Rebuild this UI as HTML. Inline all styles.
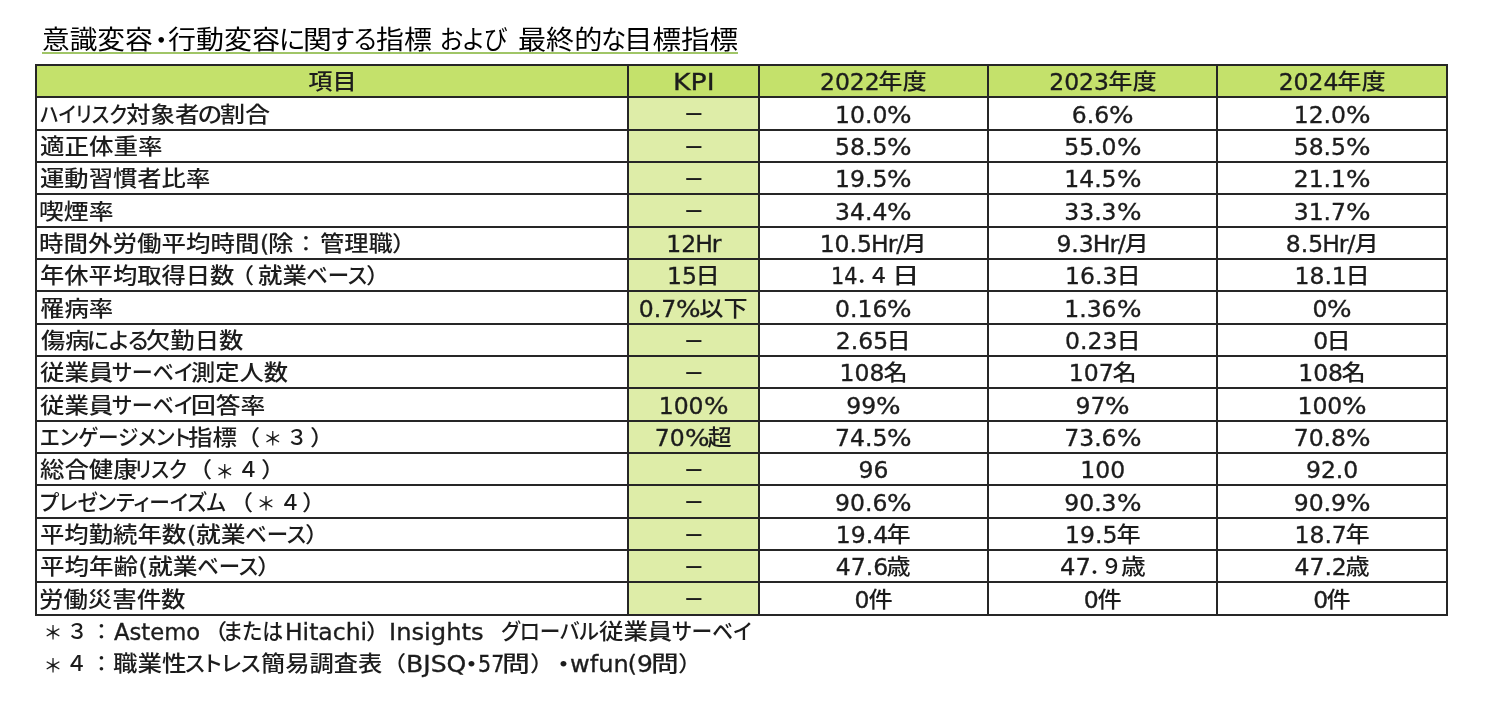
<!DOCTYPE html>
<html lang="ja"><head><meta charset="utf-8"><title>意識変容･行動変容に関する指標 および 最終的な目標指標</title>
<style>
html,body{margin:0;padding:0;background:#fff;}
body{width:1496px;height:703px;position:relative;overflow:hidden;font-family:"DejaVu Sans","Liberation Sans","Noto Sans CJK JP",sans-serif;color:#1c1c1c;}
.a{position:absolute;white-space:nowrap;}
.l{position:absolute;background:#262626;}
.t{position:absolute;white-space:pre;font-size:23.5px;font-weight:500;line-height:32px;height:32px;-webkit-text-stroke:.35px #1c1c1c;}
.tt{color:#000;position:absolute;white-space:pre;font-size:25.6px;font-weight:400;line-height:36px;height:36px;}
.c{text-align:center;}
.r{position:absolute;top:0;left:0;transform-origin:0 50%;white-space:pre;}
.t .j{font-size:21.4px;top:-0.1px;-webkit-text-stroke:0;}
.k{font-feature-settings:"palt";}
.f{font-weight:500;}
.t .g{font-size:19px;top:1.4px;}
.t .m{font-size:30px;top:1px;}
.tt .m{font-size:34px;top:1.5px;}
.cj{-webkit-text-stroke:0;display:inline-block;font-size:21.4px;transform:scaleX(1.1308);position:relative;top:-1.1px;}
.p{display:inline-block;transform:scaleX(1.1);margin:0 1.1px;}
.d{-webkit-text-stroke:0;display:inline-block;transform:scaleX(.9);position:relative;top:.8px;}
.h{letter-spacing:-1px;margin-left:-1px;}
</style></head><body>
<div class="tt" id="title" style="left:0;top:21.60px;width:800px;"><span class="r j" style="left:42.07px;transform:scaleX(1.0815);">意識変容</span><span class="r j m" style="left:152.84px;">･</span><span class="r j" style="left:167.81px;transform:scaleX(1.0940);">行動変容</span><span class="r j k" style="left:278.55px;transform:scaleX(1.0503);">に</span><span class="r j" style="left:302.75px;transform:scaleX(1.1274);">関</span><span class="r j k" style="left:330.81px;transform:scaleX(0.9907);">する</span><span class="r j" style="left:375.91px;transform:scaleX(1.0898);">指標</span><span class="r" style="left:431.7px"> </span><span class="r j k" style="left:440.21px;transform:scaleX(0.9346);">および</span><span class="r" style="left:507.1px"> </span><span class="r j" style="left:517.88px;transform:scaleX(1.0989);">最終的</span><span class="r j k" style="left:601.22px;transform:scaleX(0.9898);">な</span><span class="r j" style="left:624.24px;transform:scaleX(1.1150);">目標指標</span></div>
<div class="a" style="left:42px;top:52px;width:696px;height:2px;background:#a0c567;"></div>
<div class="a" style="left:36px;top:65.0px;width:1411px;height:32.335px;background:#c4e16b;"></div>
<div class="a" style="left:628px;top:97.33px;width:130.8px;height:517.36px;background:#deeda8;"></div>
<div class="t c" id="c0_0" style="left:36px;width:592px;top:66.27px;"><span class="cj" style="margin:0 2.80px 0 2.80px">項目</span></div>
<div class="t" id="c0_1" style="left:0;top:66.27px;width:800px;"><span class="r e" style="left:673.06px;transform:scaleX(1.1367);">KPI</span></div>
<div class="t c" id="c0_2" style="left:758.8px;width:229.3px;top:66.27px;">2022<span class="cj" style="margin:0 2.80px 0 1.60px">年度</span></div>
<div class="t c" id="c0_3" style="left:988.1px;width:229.2px;top:66.27px;">2023<span class="cj" style="margin:0 2.80px 0 1.60px">年度</span></div>
<div class="t c" id="c0_4" style="left:1217.3px;width:229.7px;top:66.27px;">2024<span class="cj" style="margin:0 2.80px 0 1.60px">年度</span></div>
<div class="t" id="r1" style="left:0;top:98.61px;width:800px;"><span class="r j k" style="left:40.08px;transform:scaleX(0.9160);">ハイリスク</span><span class="r j" style="left:126.15px;transform:scaleX(1.1468);">対象者</span><span class="r j k" style="left:198.03px;transform:scaleX(1.1614);">の</span><span class="r j" style="left:220.33px;transform:scaleX(1.1732);">割合</span></div>
<div class="t c" id="c1_1" style="left:628px;width:130.8px;top:98.61px;"><span class="d">－</span></div>
<div class="t c" id="c1_2" style="left:758.8px;width:229.3px;top:98.61px;">10.0<span class="p">%</span></div>
<div class="t c" id="c1_3" style="left:988.1px;width:229.2px;top:98.61px;">6.6<span class="p">%</span></div>
<div class="t c" id="c1_4" style="left:1217.3px;width:229.7px;top:98.61px;">12.0<span class="p">%</span></div>
<div class="t" id="r2" style="left:0;top:130.94px;width:800px;"><span class="r j" style="left:39.85px;transform:scaleX(1.1468);">適正体重率</span></div>
<div class="t c" id="c2_1" style="left:628px;width:130.8px;top:130.94px;"><span class="d">－</span></div>
<div class="t c" id="c2_2" style="left:758.8px;width:229.3px;top:130.94px;">58.5<span class="p">%</span></div>
<div class="t c" id="c2_3" style="left:988.1px;width:229.2px;top:130.94px;">55.0<span class="p">%</span></div>
<div class="t c" id="c2_4" style="left:1217.3px;width:229.7px;top:130.94px;">58.5<span class="p">%</span></div>
<div class="t" id="r3" style="left:0;top:163.28px;width:800px;"><span class="r j" style="left:39.66px;transform:scaleX(1.1366);">運動習慣者比率</span></div>
<div class="t c" id="c3_1" style="left:628px;width:130.8px;top:163.28px;"><span class="d">－</span></div>
<div class="t c" id="c3_2" style="left:758.8px;width:229.3px;top:163.28px;">19.5<span class="p">%</span></div>
<div class="t c" id="c3_3" style="left:988.1px;width:229.2px;top:163.28px;">14.5<span class="p">%</span></div>
<div class="t c" id="c3_4" style="left:1217.3px;width:229.7px;top:163.28px;">21.1<span class="p">%</span></div>
<div class="t" id="r4" style="left:0;top:195.61px;width:800px;"><span class="r j" style="left:39.18px;transform:scaleX(1.1621);">喫煙率</span></div>
<div class="t c" id="c4_1" style="left:628px;width:130.8px;top:195.61px;"><span class="d">－</span></div>
<div class="t c" id="c4_2" style="left:758.8px;width:229.3px;top:195.61px;">34.4<span class="p">%</span></div>
<div class="t c" id="c4_3" style="left:988.1px;width:229.2px;top:195.61px;">33.3<span class="p">%</span></div>
<div class="t c" id="c4_4" style="left:1217.3px;width:229.7px;top:195.61px;">31.7<span class="p">%</span></div>
<div class="t" id="r5" style="left:0;top:227.95px;width:800px;"><span class="r j" style="left:39.37px;transform:scaleX(1.1452);">時間外労働平均時間</span><span class="r e" style="left:260.06px;">(</span><span class="r j" style="left:268.20px;transform:scaleX(1.1943);">除</span><span class="r j f" style="left:295.17px;">：</span><span class="r j" style="left:320.32px;transform:scaleX(1.1357);">管理職</span><span class="r j" style="left:392.28px;transform:scaleX(1.1308);">）</span></div>
<div class="t c" id="c5_1" style="left:628px;width:130.8px;top:227.95px;">12<span class="h">Hr</span></div>
<div class="t c" id="c5_2" style="left:758.8px;width:229.3px;top:227.95px;">10.5<span class="h">Hr</span>/<span class="cj" style="margin:0 1.40px 0 0.20px">月</span></div>
<div class="t c" id="c5_3" style="left:988.1px;width:229.2px;top:227.95px;">9.3<span class="h">Hr</span>/<span class="cj" style="margin:0 1.40px 0 0.20px">月</span></div>
<div class="t c" id="c5_4" style="left:1217.3px;width:229.7px;top:227.95px;">8.5<span class="h">Hr</span>/<span class="cj" style="margin:0 1.40px 0 0.20px">月</span></div>
<div class="t" id="r6" style="left:0;top:260.28px;width:800px;"><span class="r j" style="left:39.86px;transform:scaleX(1.1357);">年休平均取得日数</span><span class="r j" style="left:230.22px;transform:scaleX(1.1308);">（</span><span class="r j" style="left:257.66px;transform:scaleX(1.1423);">就業</span><span class="r j k" style="left:305.53px;transform:scaleX(1.0040);">ベース</span><span class="r j" style="left:366.18px;transform:scaleX(1.1308);">）</span></div>
<div class="t c" id="c6_1" style="left:628px;width:130.8px;top:260.28px;">15<span class="cj" style="margin:0 1.40px 0 0.20px">日</span></div>
<div class="t" id="c6_2" style="left:0;top:260.28px;width:800px;"><span class="r e" style="left:831.41px;transform:scaleX(0.8821);">14</span><span class="r j f" style="left:856.24px;">．</span><span class="r j f" style="left:867.85px;">４</span><span class="r j" style="left:891.62px;transform:scaleX(1.2767);">日</span></div>
<div class="t c" id="c6_3" style="left:988.1px;width:229.2px;top:260.28px;">16.3<span class="cj" style="margin:0 1.40px 0 0.20px">日</span></div>
<div class="t c" id="c6_4" style="left:1217.3px;width:229.7px;top:260.28px;">18.1<span class="cj" style="margin:0 1.40px 0 0.20px">日</span></div>
<div class="t" id="r7" style="left:0;top:292.62px;width:800px;"><span class="r j" style="left:40.36px;transform:scaleX(1.1403);">罹病率</span></div>
<div class="t c" id="c7_1" style="left:628px;width:130.8px;top:292.62px;">0.7<span class="p">%</span><span class="cj" style="margin:0 2.80px 0 1.60px">以下</span></div>
<div class="t c" id="c7_2" style="left:758.8px;width:229.3px;top:292.62px;">0.16<span class="p">%</span></div>
<div class="t c" id="c7_3" style="left:988.1px;width:229.2px;top:292.62px;">1.36<span class="p">%</span></div>
<div class="t c" id="c7_4" style="left:1217.3px;width:229.7px;top:292.62px;">0<span class="p">%</span></div>
<div class="t" id="r8" style="left:0;top:324.95px;width:800px;"><span class="r j" style="left:40.56px;transform:scaleX(1.1342);">傷病</span><span class="r j k" style="left:86.93px;transform:scaleX(1.0602);">による</span><span class="r j" style="left:145.99px;transform:scaleX(1.1372);">欠勤日数</span></div>
<div class="t c" id="c8_1" style="left:628px;width:130.8px;top:324.95px;"><span class="d">－</span></div>
<div class="t c" id="c8_2" style="left:758.8px;width:229.3px;top:324.95px;">2.65<span class="cj" style="margin:0 1.40px 0 0.20px">日</span></div>
<div class="t c" id="c8_3" style="left:988.1px;width:229.2px;top:324.95px;">0.23<span class="cj" style="margin:0 1.40px 0 0.20px">日</span></div>
<div class="t c" id="c8_4" style="left:1217.3px;width:229.7px;top:324.95px;">0<span class="cj" style="margin:0 1.40px 0 0.20px">日</span></div>
<div class="t" id="r9" style="left:0;top:357.28px;width:800px;"><span class="r j" style="left:40.36px;transform:scaleX(1.1415);">従業員</span><span class="r j k" style="left:112.22px;transform:scaleX(0.9840);">サーベイ</span><span class="r j" style="left:191.26px;transform:scaleX(1.1352);">測定人数</span></div>
<div class="t c" id="c9_1" style="left:628px;width:130.8px;top:357.28px;"><span class="d">－</span></div>
<div class="t c" id="c9_2" style="left:758.8px;width:229.3px;top:357.28px;">108<span class="cj" style="margin:0 1.40px 0 0.20px">名</span></div>
<div class="t c" id="c9_3" style="left:988.1px;width:229.2px;top:357.28px;">107<span class="cj" style="margin:0 1.40px 0 0.20px">名</span></div>
<div class="t c" id="c9_4" style="left:1217.3px;width:229.7px;top:357.28px;">108<span class="cj" style="margin:0 1.40px 0 0.20px">名</span></div>
<div class="t" id="r10" style="left:0;top:389.62px;width:800px;"><span class="r j" style="left:40.36px;transform:scaleX(1.1415);">従業員</span><span class="r j k" style="left:112.22px;transform:scaleX(0.9840);">サーベイ</span><span class="r j" style="left:190.55px;transform:scaleX(1.1595);">回答率</span></div>
<div class="t c" id="c10_1" style="left:628px;width:130.8px;top:389.62px;">100<span class="p">%</span></div>
<div class="t c" id="c10_2" style="left:758.8px;width:229.3px;top:389.62px;">99<span class="p">%</span></div>
<div class="t c" id="c10_3" style="left:988.1px;width:229.2px;top:389.62px;">97<span class="p">%</span></div>
<div class="t c" id="c10_4" style="left:1217.3px;width:229.7px;top:389.62px;">100<span class="p">%</span></div>
<div class="t" id="r11" style="left:0;top:421.95px;width:800px;"><span class="r j k" style="left:39.72px;transform:scaleX(0.9648);">エンゲージメント</span><span class="r j" style="left:188.25px;transform:scaleX(1.1463);">指標</span><span class="r j" style="left:236.47px;transform:scaleX(1.1308);">（</span><span class="r j f g" style="left:263.29px;">＊</span><span class="r j f" style="left:286.35px;">３</span><span class="r j" style="left:310.23px;transform:scaleX(1.1308);">）</span></div>
<div class="t c" id="c11_1" style="left:628px;width:130.8px;top:421.95px;">70<span class="p">%</span><span class="cj" style="margin:0 1.40px 0 0.20px">超</span></div>
<div class="t c" id="c11_2" style="left:758.8px;width:229.3px;top:421.95px;">74.5<span class="p">%</span></div>
<div class="t c" id="c11_3" style="left:988.1px;width:229.2px;top:421.95px;">73.6<span class="p">%</span></div>
<div class="t c" id="c11_4" style="left:1217.3px;width:229.7px;top:421.95px;">70.8<span class="p">%</span></div>
<div class="t" id="r12" style="left:0;top:454.29px;width:800px;"><span class="r j" style="left:40.05px;transform:scaleX(1.1412);">総合健康</span><span class="r j k" style="left:135.22px;transform:scaleX(0.9277);">リスク</span><span class="r j" style="left:187.97px;transform:scaleX(1.1308);">（</span><span class="r j f g" style="left:215.14px;">＊</span><span class="r j f" style="left:237.40px;">４</span><span class="r j" style="left:260.98px;transform:scaleX(1.1308);">）</span></div>
<div class="t c" id="c12_1" style="left:628px;width:130.8px;top:454.29px;"><span class="d">－</span></div>
<div class="t c" id="c12_2" style="left:758.8px;width:229.3px;top:454.29px;">96</div>
<div class="t c" id="c12_3" style="left:988.1px;width:229.2px;top:454.29px;">100</div>
<div class="t c" id="c12_4" style="left:1217.3px;width:229.7px;top:454.29px;">92.0</div>
<div class="t" id="r13" style="left:0;top:486.62px;width:800px;"><span class="r j k" style="left:39.64px;transform:scaleX(0.9679);">プレゼンティーイズム</span><span class="r j" style="left:228.82px;transform:scaleX(1.1308);">（</span><span class="r j f g" style="left:256.49px;">＊</span><span class="r j f" style="left:279.55px;">４</span><span class="r j" style="left:302.13px;transform:scaleX(1.1308);">）</span></div>
<div class="t c" id="c13_1" style="left:628px;width:130.8px;top:486.62px;"><span class="d">－</span></div>
<div class="t c" id="c13_2" style="left:758.8px;width:229.3px;top:486.62px;">90.6<span class="p">%</span></div>
<div class="t c" id="c13_3" style="left:988.1px;width:229.2px;top:486.62px;">90.3<span class="p">%</span></div>
<div class="t c" id="c13_4" style="left:1217.3px;width:229.7px;top:486.62px;">90.9<span class="p">%</span></div>
<div class="t" id="r14" style="left:0;top:518.96px;width:800px;"><span class="r j" style="left:39.66px;transform:scaleX(1.1383);">平均勤続年数</span><span class="r e" style="left:186.96px;">(</span><span class="r j" style="left:196.14px;transform:scaleX(1.1618);">就業</span><span class="r j k" style="left:245.13px;transform:scaleX(1.0040);">ベース</span><span class="r j" style="left:305.08px;transform:scaleX(1.1308);">）</span></div>
<div class="t c" id="c14_1" style="left:628px;width:130.8px;top:518.96px;"><span class="d">－</span></div>
<div class="t c" id="c14_2" style="left:758.8px;width:229.3px;top:518.96px;">19.4<span class="cj" style="margin:0 1.40px 0 0.20px">年</span></div>
<div class="t c" id="c14_3" style="left:988.1px;width:229.2px;top:518.96px;">19.5<span class="cj" style="margin:0 1.40px 0 0.20px">年</span></div>
<div class="t c" id="c14_4" style="left:1217.3px;width:229.7px;top:518.96px;">18.7<span class="cj" style="margin:0 1.40px 0 0.20px">年</span></div>
<div class="t" id="r15" style="left:0;top:551.30px;width:800px;"><span class="r j" style="left:39.65px;transform:scaleX(1.1463);">平均年齢</span><span class="r e" style="left:138.56px;">(</span><span class="r j" style="left:147.74px;transform:scaleX(1.1618);">就業</span><span class="r j k" style="left:196.73px;transform:scaleX(1.0040);">ベース</span><span class="r j" style="left:256.58px;transform:scaleX(1.1308);">）</span></div>
<div class="t c" id="c15_1" style="left:628px;width:130.8px;top:551.30px;"><span class="d">－</span></div>
<div class="t c" id="c15_2" style="left:758.8px;width:229.3px;top:551.30px;">47.6<span class="cj" style="margin:0 1.40px 0 0.20px">歳</span></div>
<div class="t" id="c15_3" style="left:0;top:551.30px;width:800px;"><span class="r e" style="left:1060.27px;transform:scaleX(1.0296);">47</span><span class="r j f" style="left:1089.09px;">．</span><span class="r j f" style="left:1100.74px;">９</span><span class="r j" style="left:1121.34px;transform:scaleX(1.1603);">歳</span></div>
<div class="t c" id="c15_4" style="left:1217.3px;width:229.7px;top:551.30px;">47.2<span class="cj" style="margin:0 1.40px 0 0.20px">歳</span></div>
<div class="t" id="r16" style="left:0;top:583.63px;width:800px;"><span class="r j" style="left:39.32px;transform:scaleX(1.1417);">労働災害件数</span></div>
<div class="t c" id="c16_1" style="left:628px;width:130.8px;top:583.63px;"><span class="d">－</span></div>
<div class="t c" id="c16_2" style="left:758.8px;width:229.3px;top:583.63px;">0<span class="cj" style="margin:0 1.40px 0 0.20px">件</span></div>
<div class="t c" id="c16_3" style="left:988.1px;width:229.2px;top:583.63px;">0<span class="cj" style="margin:0 1.40px 0 0.20px">件</span></div>
<div class="t c" id="c16_4" style="left:1217.3px;width:229.7px;top:583.63px;">0<span class="cj" style="margin:0 1.40px 0 0.20px">件</span></div>
<div class="l" style="left:35px;top:64px;width:1413px;height:2px;"></div>
<div class="l" style="left:35px;top:96px;width:1413px;height:2px;"></div>
<div class="l" style="left:35px;top:129px;width:1413px;height:2px;"></div>
<div class="l" style="left:35px;top:161px;width:1413px;height:2px;"></div>
<div class="l" style="left:35px;top:193px;width:1413px;height:2px;"></div>
<div class="l" style="left:35px;top:226px;width:1413px;height:2px;"></div>
<div class="l" style="left:35px;top:258px;width:1413px;height:2px;"></div>
<div class="l" style="left:35px;top:290px;width:1413px;height:2px;"></div>
<div class="l" style="left:35px;top:323px;width:1413px;height:2px;"></div>
<div class="l" style="left:35px;top:355px;width:1413px;height:2px;"></div>
<div class="l" style="left:35px;top:387px;width:1413px;height:2px;"></div>
<div class="l" style="left:35px;top:420px;width:1413px;height:2px;"></div>
<div class="l" style="left:35px;top:452px;width:1413px;height:2px;"></div>
<div class="l" style="left:35px;top:484px;width:1413px;height:2px;"></div>
<div class="l" style="left:35px;top:517px;width:1413px;height:2px;"></div>
<div class="l" style="left:35px;top:549px;width:1413px;height:2px;"></div>
<div class="l" style="left:35px;top:581px;width:1413px;height:2px;"></div>
<div class="l" style="left:35px;top:614px;width:1413px;height:2px;"></div>
<div class="l" style="left:35px;top:64px;width:2px;height:552px;"></div>
<div class="l" style="left:627px;top:64px;width:2px;height:552px;"></div>
<div class="l" style="left:758px;top:64px;width:2px;height:552px;"></div>
<div class="l" style="left:987px;top:64px;width:2px;height:552px;"></div>
<div class="l" style="left:1216px;top:64px;width:2px;height:552px;"></div>
<div class="l" style="left:1446px;top:64px;width:2px;height:552px;"></div>
<div class="t" id="f1" style="left:0;top:615.97px;width:800px;"><span class="r j f g" style="left:43.49px;">＊</span><span class="r j f" style="left:66.50px;">３</span><span class="r j f" style="left:90.67px;">：</span><span class="r e" style="left:114.10px;transform:scaleX(0.9658);">Astemo</span><span class="r j" style="left:202.97px;transform:scaleX(1.1308);">（</span><span class="r j k" style="left:223.38px;transform:scaleX(0.9774);">または</span><span class="r e" style="left:284.94px;">Hitachi</span><span class="r j" style="left:365.78px;transform:scaleX(1.1308);">）</span><span class="r e" style="left:389.17px;transform:scaleX(1.0294);">Insights</span><span class="r" style="left:483.7px">  </span><span class="r j k" style="left:501.13px;transform:scaleX(0.9655);">グローバル</span><span class="r j" style="left:598.66px;transform:scaleX(1.1415);">従業員</span><span class="r j k" style="left:671.53px;transform:scaleX(0.9714);">サーベイ</span></div>
<div class="t" id="f2" style="left:0;top:648.30px;width:800px;"><span class="r j f g" style="left:43.49px;">＊</span><span class="r j f" style="left:65.70px;">４</span><span class="r j f" style="left:90.67px;">：</span><span class="r j" style="left:113.05px;transform:scaleX(1.1468);">職業性</span><span class="r j k" style="left:185.32px;transform:scaleX(1.0262);">ストレス</span><span class="r j" style="left:261.16px;transform:scaleX(1.1351);">簡易調査表</span><span class="r j" style="left:382.32px;transform:scaleX(1.1308);">（</span><span class="r e" style="left:406.20px;transform:scaleX(1.0694);">BJSQ</span><span class="r j m" style="left:462.52px;transform:scaleX(1.1308);">･</span><span class="r e" style="left:478.21px;transform:scaleX(0.8781);">57</span><span class="r j" style="left:501.99px;transform:scaleX(1.3029);">問</span><span class="r j" style="left:530.48px;transform:scaleX(1.1308);">）</span><span class="r j m" style="left:555.32px;transform:scaleX(1.1308);">･</span><span class="r e" style="left:570.27px;transform:scaleX(1.0253);">wfun</span><span class="r e" style="left:627.71px;">(</span><span class="r e" style="left:637.06px;transform:scaleX(1.0633);">9</span><span class="r j" style="left:650.91px;transform:scaleX(1.2972);">問</span><span class="r j" style="left:678.03px;transform:scaleX(1.1308);">）</span></div>
</body></html>
